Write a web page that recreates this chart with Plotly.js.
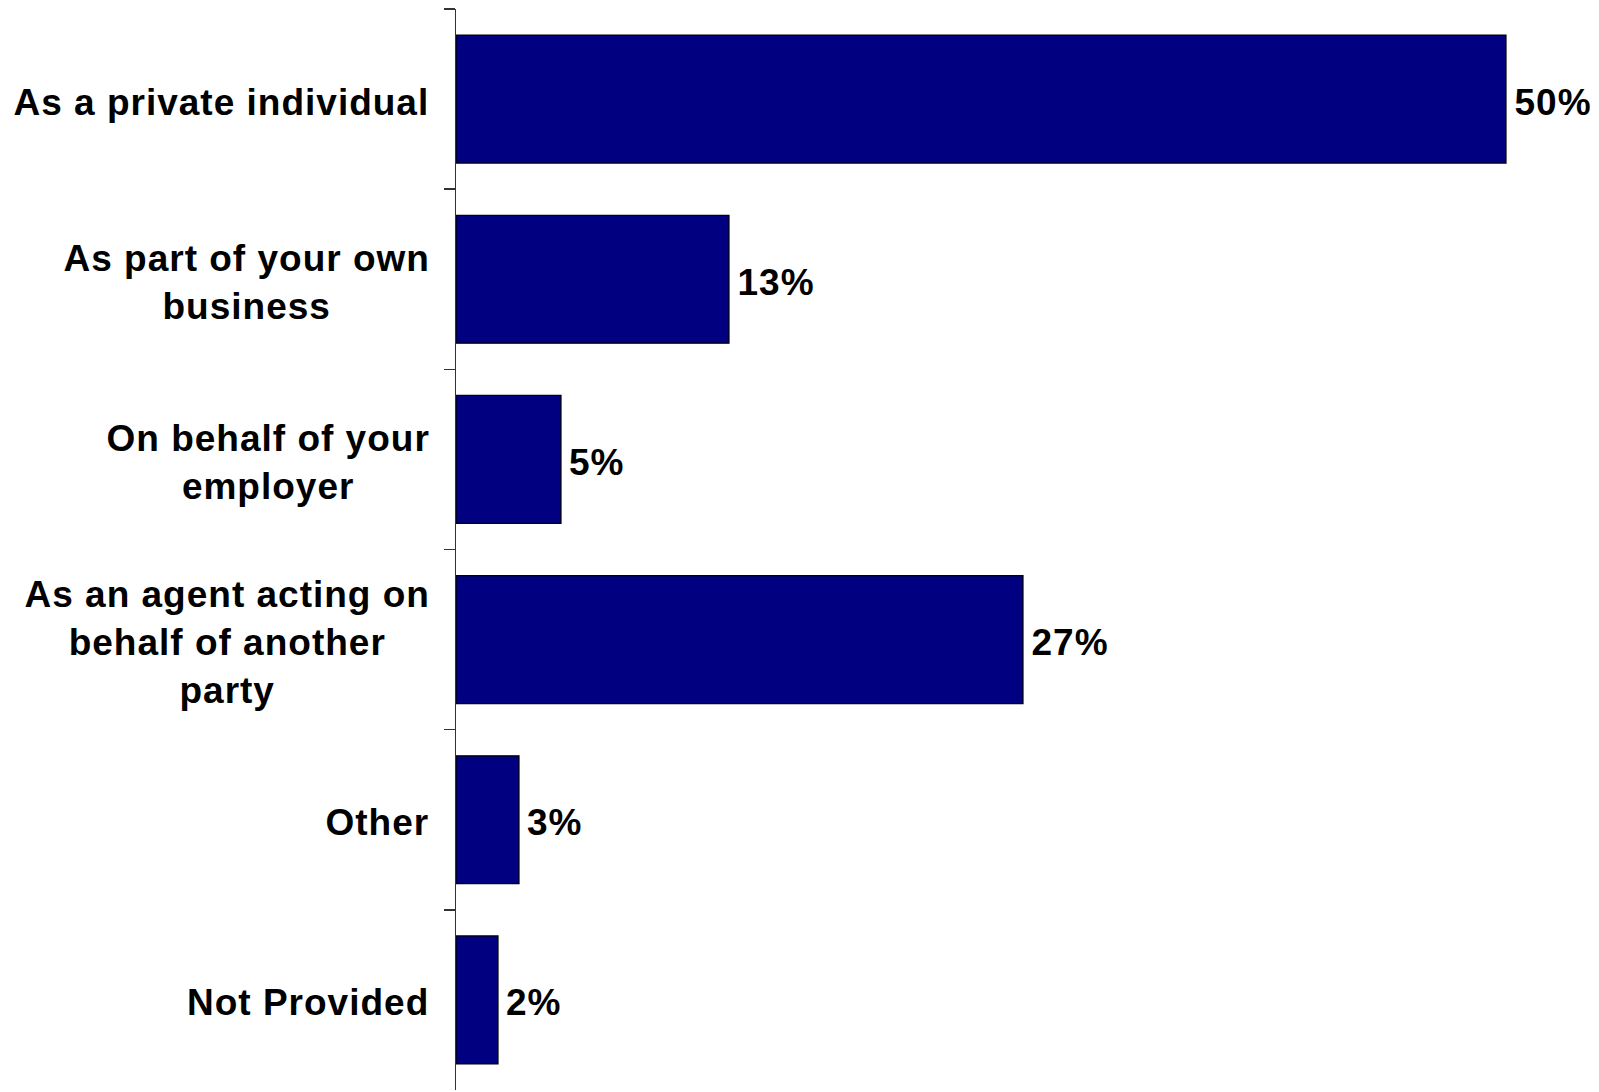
<!DOCTYPE html>
<html>
<head>
<meta charset="utf-8">
<script src="https://cdn.plot.ly/plotly-3.0.1.min.js"></script>
<style>
html,body{margin:0;padding:0;background:#fff;}
#chart{width:1599px;height:1092px;}
#chart .annotation-text{letter-spacing:1px;}
</style>
</head>
<body>
<div id="chart"></div>
<script>
const categories = ["As a private individual", "As part of your own business", "On behalf of your employer", "As an agent acting on behalf of another party", "Other", "Not Provided"];
const tickLabels = ["As a private individual", "As part of your own<br>business", "On behalf of your<br>employer", "As an agent acting on<br>behalf of another<br>party", "Other", "Not Provided"];
const values = [50, 13, 5, 27, 3, 2];
const valueLabels = ["50%", "13%", "5%", "27%", "3%", "2%"];

const FONT = "Liberation Sans, Arial, sans-serif";
const LS = 1; // letter-spacing in px (CSS), compensated below

function longestLine(s) {
  return Math.max(...s.split("<br>").map(t => t.length));
}

const trace = {
  type: "bar",
  orientation: "h",
  y: categories,
  x: values,
  marker: {color: "#000080", line: {color: "#000000", width: 1.2}},
  hoverinfo: "none"
};

const annotations = [];
categories.forEach((c, i) => {
  annotations.push({
    xref: "paper", yref: "y", x: 0, y: c,
    xanchor: "right", yanchor: "middle",
    xshift: -25 - longestLine(tickLabels[i]) * LS / 2, yshift: -3,
    text: tickLabels[i], align: "center", showarrow: false,
    font: {family: FONT, size: 37, color: "#000", weight: "bold"}
  });
  annotations.push({
    xref: "x", yref: "y", x: values[i], y: c,
    xanchor: "left", yanchor: "middle",
    xshift: 6 + valueLabels[i].length * LS / 2, yshift: -3,
    text: valueLabels[i], showarrow: false,
    font: {family: FONT, size: 37, color: "#000", weight: "bold"}
  });
});

const layout = {
  width: 1599, height: 1092,
  margin: {l: 456, r: 9, t: 9, b: 2, pad: 0},
  paper_bgcolor: "#fff", plot_bgcolor: "#fff",
  showlegend: false,
  bargap: 0.29,
  xaxis: {range: [0, 54], visible: false, fixedrange: true},
  yaxis: {
    type: "category",
    autorange: "reversed",
    showticklabels: false,
    showline: true, linecolor: "#333", linewidth: 1.5,
    ticks: "outside", tickson: "boundaries", ticklen: 11, tickwidth: 1.5, tickcolor: "#333",
    showgrid: false, zeroline: false, fixedrange: true
  },
  annotations: annotations
};

Plotly.newPlot("chart", [trace], layout, {displayModeBar: false, staticPlot: true});
</script>
</body>
</html>
